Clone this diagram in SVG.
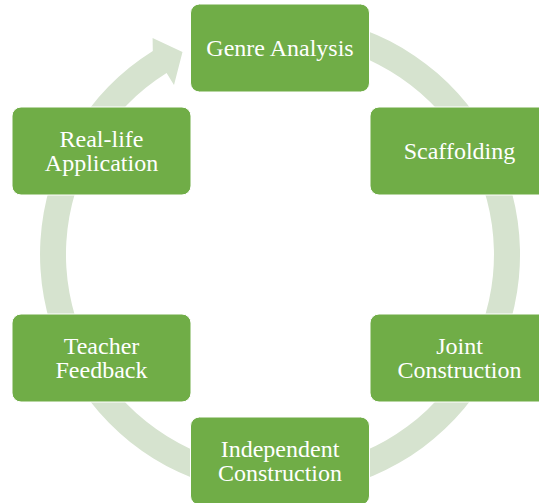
<svg xmlns="http://www.w3.org/2000/svg" width="539" height="503" viewBox="0 0 539 503">
<style>
.node rect { fill: #70AD47; stroke: #FFFFFF; stroke-width: 1; }
.node text { fill: #FFFFFF; font-family: "Liberation Serif", "Times New Roman", serif; font-size: 24px; text-anchor: middle; }
.ring { fill: #D6E3CF; stroke: none; }
</style>
<rect width="539" height="503" fill="#FFFFFF"/>
<g id="connectors">
<path class="ring" d="M 280 14.5 A 240 240 0 1 1 152.8 51 L 152.6 38 L 182.5 52 L 174 85 L 166.6 73 A 214 214 0 1 0 280 40.5 Z"/>
</g>
<g id="node-genre-analysis" class="node">
<rect x="190.5" y="4" width="179" height="88" rx="9"/>
<text x="280" y="55.5">Genre Analysis</text>
</g>
<g id="node-scaffolding" class="node">
<rect x="370" y="107" width="179" height="88" rx="9"/>
<text x="459.5" y="158.5">Scaffolding</text>
</g>
<g id="node-joint-construction" class="node">
<rect x="370" y="314" width="179" height="88" rx="9"/>
<text x="459.5" y="353.5">Joint</text>
<text x="459.5" y="377.5">Construction</text>
</g>
<g id="node-independent-construction" class="node">
<rect x="190.5" y="417" width="179" height="88" rx="9"/>
<text x="280" y="456.5">Independent</text>
<text x="280" y="480.5">Construction</text>
</g>
<g id="node-teacher-feedback" class="node">
<rect x="12" y="314" width="179" height="88" rx="9"/>
<text x="101.5" y="353.5">Teacher</text>
<text x="101.5" y="377.5">Feedback</text>
</g>
<g id="node-real-life-application" class="node">
<rect x="12" y="107" width="179" height="88" rx="9"/>
<text x="101.5" y="146.5">Real-life</text>
<text x="101.5" y="170.5">Application</text>
</g>
</svg>
